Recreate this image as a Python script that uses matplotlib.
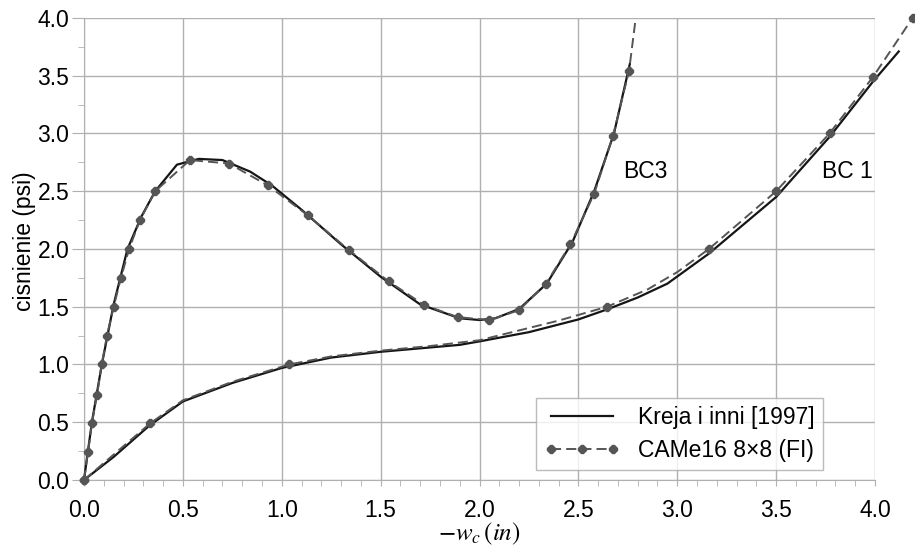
import matplotlib
matplotlib.use("Agg")
import matplotlib.pyplot as plt
from matplotlib.lines import Line2D
from matplotlib.ticker import MultipleLocator

plt.rcParams["font.family"] = ["Liberation Sans", "DejaVu Sans"]
plt.rcParams["mathtext.fontset"] = "stix"

# =========================
# data
# =========================

# BC3, Kreja i inni [1997]
bc3_ref_x = [0.0, 0.04, 0.09, 0.15, 0.22, 0.29, 0.36, 0.47, 0.58, 0.70, 0.84,
             0.95, 1.10, 1.30, 1.50, 1.70, 1.90, 2.00, 2.08, 2.20, 2.34, 2.47,
             2.58, 2.68, 2.76]
bc3_ref_y = [0.0, 0.50, 1.00, 1.52, 2.00, 2.28, 2.50, 2.73, 2.78, 2.77, 2.67,
             2.55, 2.34, 2.04, 1.76, 1.52, 1.40, 1.385, 1.40, 1.48, 1.70, 2.06,
             2.50, 3.00, 3.60]

# BC3, CAMe16 8x8 (FI)
bc3_fe_x = [0.0, 0.02, 0.04, 0.066, 0.09, 0.116, 0.15, 0.187, 0.228, 0.283,
            0.36, 0.536, 0.733, 0.93, 1.133, 1.34, 1.54, 1.72, 1.89, 2.05,
            2.20, 2.336, 2.46, 2.58, 2.675, 2.756, 2.79]
bc3_fe_y = [0.0, 0.24, 0.49, 0.74, 1.00, 1.25, 1.50, 1.75, 2.00, 2.25,
            2.50, 2.77, 2.74, 2.55, 2.29, 1.99, 1.72, 1.515, 1.41, 1.385,
            1.47, 1.70, 2.04, 2.48, 2.98, 3.54, 4.00]
bc3_fe_marks = list(range(len(bc3_fe_x) - 1))

# BC1, Kreja i inni [1997]
bc1_ref_x = [0.0, 0.15, 0.33, 0.50, 0.75, 1.00, 1.25, 1.50, 1.90, 2.00, 2.25,
             2.50, 2.65, 2.80, 2.95, 3.16, 3.50, 3.77, 3.99, 4.12]
bc1_ref_y = [0.0, 0.20, 0.47, 0.68, 0.84, 0.97, 1.06, 1.11, 1.17, 1.20, 1.28,
             1.39, 1.48, 1.58, 1.70, 1.96, 2.45, 2.97, 3.45, 3.71]

# BC1, CAMe16 8x8 (FI)
bc1_fe_x = [0.0, 0.334, 0.50, 0.75, 1.037, 1.25, 1.50, 1.75, 2.00, 2.40,
            2.645, 2.85, 3.00, 3.16, 3.50, 3.77, 3.99, 4.19]
bc1_fe_y = [0.0, 0.49, 0.69, 0.85, 1.00, 1.07, 1.12, 1.16, 1.21, 1.38,
            1.50, 1.65, 1.80, 2.00, 2.50, 3.00, 3.49, 4.00]
bc1_fe_marks = [0, 1, 4, 10, 13, 14, 15, 16, 17]

# =========================
# plot
# =========================

fig = plt.figure(figsize=(9.15, 5.53), dpi=100)
ax = fig.add_axes([0.0918, 0.132, 0.8645, 0.8355])

GRID = "#b0b0b0"
solid_kw = dict(color="#151515", lw=1.6, clip_on=False, zorder=3)
dash_kw = dict(color="#555555", lw=1.4, ls=(0, (5.2, 2.6)), marker="8",
               ms=5.5, mfc="#555555", mec="#555555", clip_on=False, zorder=4)

ax.plot(bc3_ref_x, bc3_ref_y, **solid_kw)
ax.plot(bc3_fe_x, bc3_fe_y, markevery=bc3_fe_marks, **dash_kw)
ax.plot(bc1_ref_x, bc1_ref_y, **solid_kw)
ax.plot(bc1_fe_x, bc1_fe_y, markevery=bc1_fe_marks, **dash_kw)

ax.text(2.726, 2.67, "BC3", fontsize=16.5, ha="left", va="center")
ax.text(3.73, 2.67, "BC 1", fontsize=16.5, ha="left", va="center")

ax.set_xlim(0, 4.0)
ax.set_ylim(0, 4.0)
ax.xaxis.set_major_locator(MultipleLocator(0.5))
ax.xaxis.set_minor_locator(MultipleLocator(0.1))
ax.yaxis.set_major_locator(MultipleLocator(0.5))
ax.yaxis.set_minor_locator(MultipleLocator(0.25))
ax.xaxis.set_major_formatter(lambda v, p: f"{v:.1f}")
ax.yaxis.set_major_formatter(lambda v, p: f"{v:.1f}")

ax.grid(True, which="major", color=GRID, lw=1.0)
for s in ax.spines.values():
    s.set_visible(False)
for side in ("left", "bottom"):
    ax.spines[side].set_visible(True)
    ax.spines[side].set_color(GRID)

ax.tick_params(axis="x", which="both", direction="out", length=4.5,
               color=GRID, labelsize=16.5, pad=9)
ax.tick_params(axis="y", which="major", direction="out", length=8.5,
               color=GRID, labelsize=16.5, pad=2)
ax.tick_params(axis="y", which="minor", direction="out", length=4.5,
               color=GRID)

ax.set_xlabel(r"$-w_c\,(in)$", fontsize=18)
ax.xaxis.set_label_coords(0.5, -0.088)
ax.set_ylabel("cisnienie (psi)", fontsize=16.5)
ax.yaxis.set_label_coords(-0.061, 0.517)

# legend proxies: three markers on the dashed handle
handles = [
    Line2D([], [], color="#151515", lw=1.6),
    Line2D([], [], color="#555555", lw=1.4, ls=(0, (5.2, 2.6)), marker="8",
           ms=5.5, mfc="#555555", mec="#555555"),
]
labels = ["Kreja i inni [1997]", "CAMe16 8\u00d78 (FI)"]
leg = ax.legend(handles, labels, loc="lower right",
                bbox_to_anchor=(0.934, 0.021), fontsize=16.5, frameon=True,
                fancybox=False, numpoints=3, handlelength=3.3,
                handletextpad=0.8, borderpad=0.35, labelspacing=0.45,
                borderaxespad=0)
leg.get_frame().set_edgecolor("#aaaaaa")
leg.get_frame().set_linewidth(1.0)

fig.savefig("out.png", dpi=100)
